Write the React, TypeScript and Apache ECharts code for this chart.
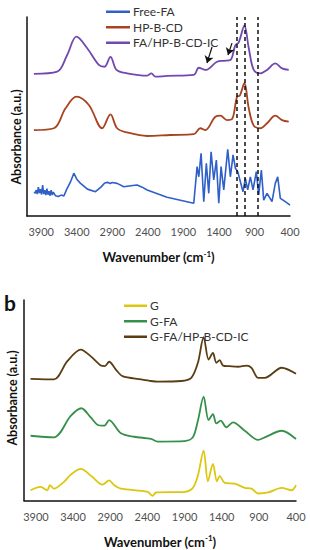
import React, { useEffect, useRef } from "react";
import * as echarts from "echarts";

// ---- Panel a: FTIR spectra (wavenumber, offset absorbance) ----
const freeFA: [number, number][] = [
  [4000, 12], [3985, 11.5], [3970, 13], [3955, 11], [3940, 14.5], [3925, 11.5], [3910, 13.5],
  [3895, 10.8], [3880, 15.5], [3865, 11], [3850, 13], [3835, 10.5], [3820, 13.8], [3805, 10.7],
  [3790, 12.5], [3775, 10.2], [3760, 13], [3745, 10.5], [3730, 12], [3700, 10.2], [3660, 9.8],
  [3620, 10.5], [3581, 10.1], [3540, 13.5], [3490, 17], [3441, 21.5], [3400, 18.5], [3347, 16.4],
  [3250, 13.5], [3137, 12.2], [3060, 14.5], [3010, 16.5], [2996, 16.7], [2960, 16.9], [2930, 16.3],
  [2900, 16.8], [2832, 16.4], [2738, 14.7], [2640, 15.2], [2551, 15.6], [2480, 14.5], [2410, 13.1],
  [2129, 9.4], [1848, 7.2], [1754, 6.4], [1707, 24.8], [1683, 19.7], [1651, 31.5], [1613, 7.2],
  [1577, 26.5], [1543, 11.4], [1510, 32.3], [1473, 18.1], [1436, 28.1], [1402, 6.4], [1370, 24.8],
  [1332, 13.1], [1276, 33.5], [1239, 19.7], [1201, 30.7], [1168, 24], [1135, 22.3], [1098, 17.2],
  [1061, 12.2], [1028, 18.9], [995, 13.1], [958, 19.7], [920, 13.1], [874, 22.3], [840, 10.6],
  [803, 23.1], [770, 8], [723, 11.4], [653, 7.2], [607, 16.4], [573, 19.7], [536, 8.9], [466, 7.2],
  [400, 5.5]
];
const hpBCD: [number, number][] = [
  [4003, 43.2], [3721, 44.1], [3558, 54.1], [3404, 60], [3230, 55.8], [3043, 44.1], [2926, 51.1],
  [2832, 44.1], [2691, 42], [2410, 40.2], [2082, 40.7], [1754, 41.1], [1661, 44.1], [1590, 43.2],
  [1450, 49.9], [1380, 50.4], [1286, 48.2], [1215, 48.7], [1145, 60], [1107, 60.5], [1042, 66.7],
  [980, 54.1], [910, 45.4], [817, 44.1], [723, 46.6], [607, 50.4], [512, 48.2], [418, 47.4]
];
const faIC: [number, number][] = [
  [4003, 71.4], [3675, 72.5], [3535, 80.9], [3404, 90.1], [3253, 84.3], [3089, 75.9], [3010, 75],
  [2926, 80], [2841, 73.4], [2691, 71.7], [2410, 70.5], [2350, 71.7], [2293, 70], [2129, 70.4],
  [1754, 70.9], [1683, 74.5], [1590, 73.4], [1426, 77.5], [1332, 78], [1239, 78.4], [1168, 85.9],
  [1121, 87.3], [1042, 95.6], [980, 84.3], [910, 73.4], [817, 71.7], [723, 73.4], [607, 76.7],
  [512, 74.2], [418, 73.4]
];
const dashedBands = [1150, 1030, 850];
const arrowA: [[number, number], [number, number]] = [[1497, 84.9], [1568, 76.9]];
const arrowB: [[number, number], [number, number]] = [[1216, 86.9], [1272, 80.9]];

// ---- Panel b ----
const gSeries: [number, number][] = [
  [3972, 5.1], [3836, 6.8], [3747, 5.1], [3711, 7.6], [3657, 5.9], [3522, 9.3], [3431, 12.9],
  [3296, 15.8], [3139, 11.7], [3004, 7.9], [2914, 10], [2846, 7.6], [2756, 5.9], [2396, 4.3],
  [2329, 2.3], [2283, 4], [1900, 4.3], [1788, 6.3], [1720, 12.5], [1643, 24.9], [1585, 9.6],
  [1518, 18.3], [1464, 9.6], [1427, 12.2], [1359, 8.8], [1224, 8.4], [1089, 6.3], [999, 5.9],
  [909, 3.5], [774, 4], [593, 6.3], [458, 5.1], [400, 7.6]
];
const gFA: [number, number][] = [
  [3972, 32.3], [3657, 31.5], [3431, 42.2], [3288, 46], [3161, 41.4], [3072, 37.8], [2981, 37.3],
  [2914, 40.1], [2756, 33.5], [2576, 31.8], [2350, 30.7], [2261, 29.4], [1900, 29.6], [1788, 31.5],
  [1720, 39.8], [1643, 51.8], [1576, 40.1], [1518, 43.1], [1472, 38.5], [1414, 39.8], [1337, 36.5],
  [1247, 39], [1089, 34.8], [909, 30.2], [819, 31.5], [593, 34.8], [400, 30.7]
];
const gFAIC: [number, number][] = [
  [3972, 60.7], [3657, 60.4], [3477, 69.5], [3296, 75.2], [3161, 71.9], [3026, 67.3], [2972, 67],
  [2914, 69.2], [2824, 65.3], [2734, 62], [2485, 60.4], [2350, 59.6], [2261, 59.3], [1945, 59.6],
  [1809, 61.2], [1720, 68.7], [1643, 81.5], [1576, 70.3], [1518, 73.6], [1472, 68.7], [1427, 70],
  [1382, 67.3], [1292, 67], [1180, 66.7], [1066, 67.3], [999, 66.2], [909, 61.2], [819, 61.2],
  [593, 66.2], [400, 63.2]
];

const FONT = "Lato, 'Open Sans', sans-serif";

export default function App() {
  const ref = useRef<HTMLDivElement>(null);
  useEffect(() => {
    if (!ref.current) return;
    const chart = echarts.init(ref.current, undefined, { renderer: "svg" });
    const xAxisBase = (gridIndex: number, max: number, gap: number) => ({
      type: "value" as const,
      gridIndex,
      min: 400,
      max,
      interval: 500,
      inverse: true,
      axisLine: { show: true, onZero: false, lineStyle: { color: "#111", width: 1.5 } },
      axisTick: { show: false },
      splitLine: { show: false },
      axisLabel: {
        color: "#505050",
        fontSize: 11,
        fontFamily: FONT,
        margin: 10,
        showMaxLabel: false,
        formatter: (v: number) => String(v)
      },
      name: "{a|Wavenumber (cm}{s|-1}{a|)}",
      nameLocation: "middle" as const,
      nameGap: gap,
      nameTextStyle: {
        rich: {
          a: { fontSize: 13, fontWeight: "bold", color: "#111", fontFamily: FONT, lineHeight: 16 },
          s: { fontSize: 8, fontWeight: "bold", color: "#111", fontFamily: FONT, padding: [0, 0, 7, 0], lineHeight: 16 }
        }
      }
    });
    const yAxisBase = (gridIndex: number) => ({
      type: "value" as const,
      gridIndex,
      min: 0,
      max: 100,
      axisLine: { show: true, lineStyle: { color: "#111", width: 1.5 } },
      axisTick: { show: false },
      axisLabel: { show: false },
      splitLine: { show: false }
    });
    const line = (name: string, data: [number, number][], color: string, idx: number, smooth: number | boolean, extra: any = {}) => ({
      type: "line",
      name,
      data,
      xAxisIndex: idx,
      yAxisIndex: idx,
      symbol: "none",
      smooth,
      lineStyle: { color, width: 1.8 },
      itemStyle: { color },
      ...extra
    });
    const arrowItem = (a: [[number, number], [number, number]]) => [
      { coord: a[0], symbol: "none" },
      { coord: a[1], symbol: "arrow", symbolSize: 7 }
    ];
    const legendBase = {
      orient: "vertical" as const,
      icon: "rect",
      itemHeight: 2.5,
      itemGap: 0,
      textStyle: { fontSize: 12, color: "#333", fontFamily: FONT, lineHeight: 15.5, padding: [0, 0, 0, -2] }
    };
    chart.setOption({
      animation: false,
      backgroundColor: "#fff",
      grid: [
        { left: 27, top: 17, width: 263, height: 199 },
        { left: 24, top: 300, width: 272, height: 202 }
      ],
      xAxis: [xAxisBase(0, 4100, 33), xAxisBase(1, 4060, 33)],
      yAxis: [yAxisBase(0), yAxisBase(1)],
      legend: [
        { ...legendBase, data: ["Free-FA", "HP-B-CD", "FA/HP-B-CD-IC"], left: 101, top: -1, itemWidth: 24 },
        { ...legendBase, data: ["G", "G-FA", "G-FA/HP-B-CD-IC"], left: 119, top: 293, itemWidth: 23 }
      ],
      graphic: [
        {
          type: "text",
          x: 16,
          y: 137,
          rotation: Math.PI / 2,
          style: { text: "Absorbance (a.u.)", fontSize: 12.5, fontWeight: "bold", fill: "#111", fontFamily: FONT, textAlign: "center", textVerticalAlign: "middle" }
        },
        {
          type: "text",
          x: 12,
          y: 398,
          rotation: Math.PI / 2,
          style: { text: "Absorbance (a.u.)", fontSize: 12.5, fontWeight: "bold", fill: "#111", fontFamily: FONT, textAlign: "center", textVerticalAlign: "middle" }
        },
        {
          type: "text",
          x: 4,
          y: 302,
          style: { text: "b", fontSize: 21, fontWeight: "bold", fill: "#111", fontFamily: FONT, textAlign: "left", textVerticalAlign: "middle" }
        }
      ],
      series: [
        line("Free-FA", freeFA, "#2f5fc8", 0, false, { lineStyle: { color: "#2f5fc8", width: 1.6 } }),
        line("HP-B-CD", hpBCD, "#a8431f", 0, 0.35),
        line("FA/HP-B-CD-IC", faIC, "#7048b0", 0, 0.35, {
          markLine: {
            silent: true,
            symbol: ["none", "none"],
            label: { show: false },
            lineStyle: { color: "#111", type: [4, 3], width: 1.5 },
            data: [
              ...dashedBands.map((v) => ({ xAxis: v })),
              arrowItem(arrowA).map((p) => ({ ...p, lineStyle: { type: "solid", width: 1.2, color: "#111" } })),
              arrowItem(arrowB).map((p) => ({ ...p, lineStyle: { type: "solid", width: 1.2, color: "#111" } }))
            ]
          }
        }),
        line("G", gSeries, "#dcc70f", 1, 0.3),
        line("G-FA", gFA, "#36904a", 1, 0.3),
        line("G-FA/HP-B-CD-IC", gFAIC, "#5a3d12", 1, 0.3)
      ]
    });
    return () => chart.dispose();
  }, []);
  return (
    <div
      ref={ref}
      style={{ position: "fixed", left: 0, top: 0, width: 310, height: 550, background: "#fff" }}
    />
  );
}
